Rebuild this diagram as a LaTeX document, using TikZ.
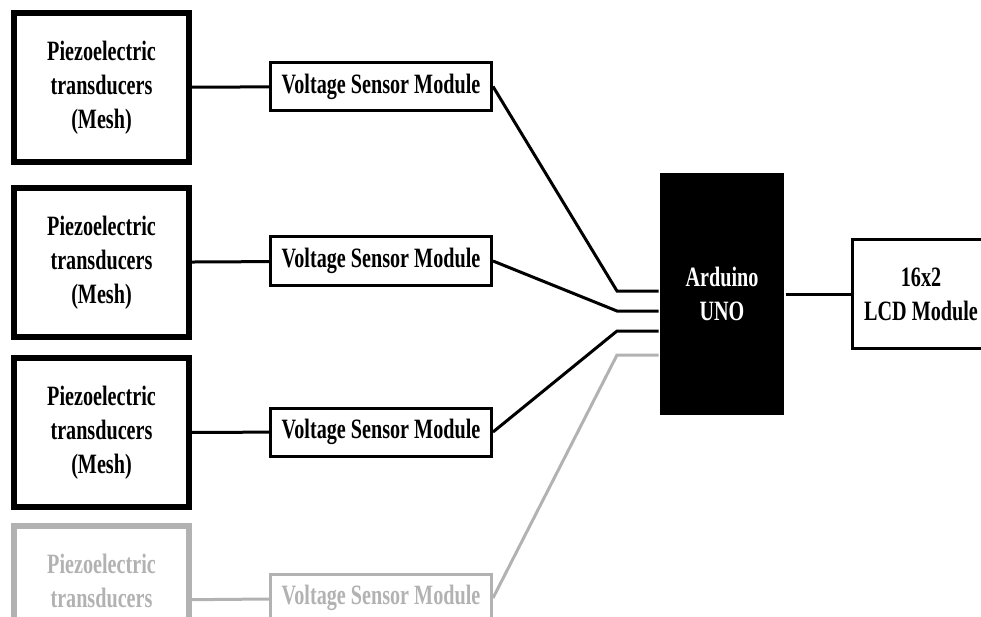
\documentclass[tikz,border=0pt]{standalone}
\usepackage{fontspec}
\setmainfont{Liberation Serif}[FakeStretch=0.72]
\usetikzlibrary{positioning}

\definecolor{fadegray}{RGB}{178,178,178}

\begin{document}
\begin{tikzpicture}[x=1pt, y=-1pt, font=\fontsize{28}{34}\selectfont\bfseries, line width=3pt]
      \tikzstyle{piezo}=[draw, line width=6pt, minimum width=175pt, minimum height=149pt, align=center, inner sep=0pt]
      \tikzstyle{sensor}=[draw, line width=3pt, minimum width=221pt, minimum height=48pt, inner sep=0pt]
      \tikzstyle{faded}=[draw=fadegray, text=fadegray]
      \useasboundingbox (0,0) rectangle (981,617);
      \clip (0,0) rectangle (981,617);
      % transducers
      \node[piezo] (p1) at (101.5,87.5) {Piezoelectric\\transducers\\(Mesh)};
      \node[piezo] (p2) at (101.5,262.5) {Piezoelectric\\transducers\\(Mesh)};
      \node[piezo] (p3) at (101.5,432.5) {Piezoelectric\\transducers\\(Mesh)};
      \node[piezo, faded] (p4) at (101.5,600.5) {Piezoelectric\\transducers\\(Mesh)};
      % sensor modules
      \node[sensor] (v1) at (381,86.5) {Voltage Sensor Module};
      \node[sensor] (v2) at (381,261) {Voltage Sensor Module};
      \node[sensor] (v3) at (381,432) {Voltage Sensor Module};
      \node[sensor, faded] (v4) at (381,598) {Voltage Sensor Module};
      % controller and display
      \node[fill=black, text=white, align=center, minimum width=124pt, minimum height=242pt] (uno) at (722,294) {Arduino\\UNO};
      \node[draw, align=center, minimum width=137pt, minimum height=109pt] (lcd) at (921,294) {16x2\\LCD Module};
      \coordinate (j1) at (617,291);
      \coordinate (j2) at (617,311);
      \coordinate (j3) at (617,331);
      \coordinate (j4) at (617,355);
      \path
      (p1) edge (v1)
      (p2) edge (v2)
      (p3) edge (v3)
      (p4) edge[fadegray] (v4)
      (uno) edge (lcd);
      \draw (v1.east) -- (j1) -- (j1 -| uno.west);
      \draw (v2.east) -- (j2) -- (j2 -| uno.west);
      \draw (v3.east) -- (j3) -- (j3 -| uno.west);
      \draw[fadegray] (v4.east) -- (j4) -- (j4 -| uno.west);
    \end{tikzpicture}
\end{document}
